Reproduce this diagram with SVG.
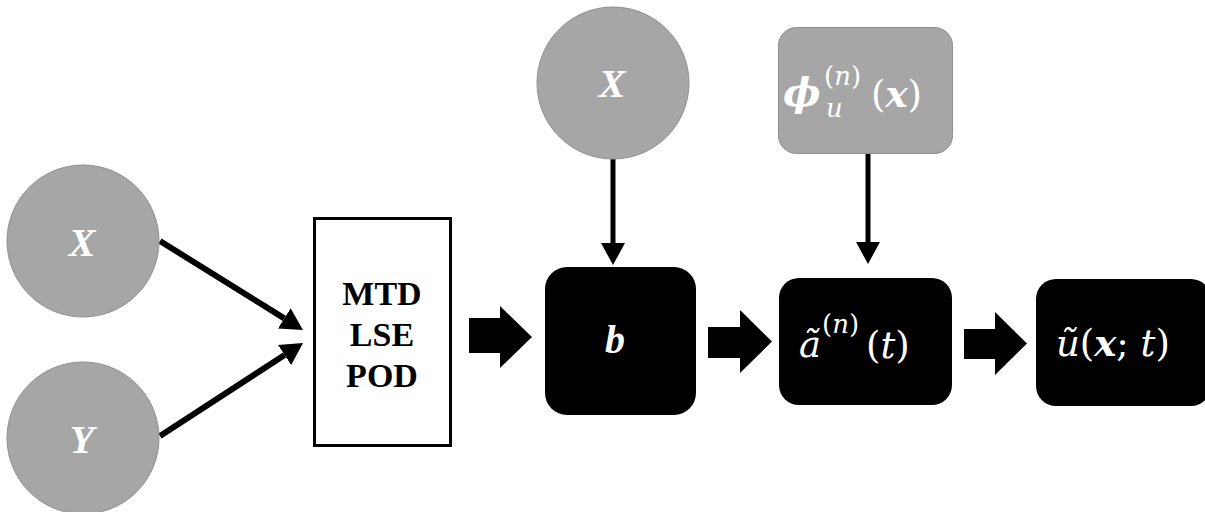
<svg xmlns="http://www.w3.org/2000/svg" width="1205" height="512" viewBox="0 0 1205 512">
<defs>
<style>
.gc{fill:#a6a6a6;stroke:#8f8f8f;stroke-width:1}
.bb{fill:#000}
.var{font-weight:bold;font-style:italic;font-size:40px;fill:#fff;text-anchor:middle}
.lab{font-weight:bold;font-size:34px;fill:#000;text-anchor:middle}
.m{font-style:italic;font-size:37px;fill:#fff}
.up{font-style:normal}
.ln{stroke:#000;stroke-width:6;fill:none}
.lv{stroke:#000;stroke-width:5;fill:none}
.blk{fill:#000}
</style>
<marker id="ah" markerUnits="userSpaceOnUse" markerWidth="22" markerHeight="24" refX="0" refY="12" orient="auto" viewBox="0 0 22 24">
<path d="M0,0 L22,12 L0,24 z" fill="#000"/>
</marker>
</defs>
<rect width="1205" height="512" fill="#fff"/>

<g id="connectors">
<line class="ln" x1="160" y1="241" x2="284.3" y2="318.4" marker-end="url(#ah)"/>
<line class="ln" x1="160" y1="436" x2="284.6" y2="355.0" marker-end="url(#ah)"/>
<line class="lv" x1="613" y1="159" x2="613" y2="243" marker-end="url(#ah)"/>
<line class="lv" x1="868" y1="154" x2="868" y2="242" marker-end="url(#ah)"/>
<polygon class="blk" points="469,318 500,318 500,306 532,337 500,368 500,353 469,353"/>
<polygon class="blk" points="708,327 740,327 740,310 772,341.5 740,373 740,358 708,358"/>
<polygon class="blk" points="964,329 995,329 995,312 1027,343.5 995,375 995,359 964,359"/>
</g>

<g id="node-x-left">
<circle class="gc" cx="83" cy="241" r="76"/>
<text class="var" font-family="Liberation Serif, Times New Roman, serif" x="82" y="256">X</text>
</g>
<g id="node-y-left">
<circle class="gc" cx="83" cy="438" r="76"/>
<text class="var" font-family="Liberation Serif, Times New Roman, serif" x="82" y="453">Y</text>
</g>
<g id="node-methods">
<rect x="314.5" y="218.5" width="136" height="227" fill="#fff" stroke="#000" stroke-width="3"/>
<text class="lab" font-family="Liberation Serif, Times New Roman, serif" x="382" y="305">MTD</text>
<text class="lab" font-family="Liberation Serif, Times New Roman, serif" x="382" y="346">LSE</text>
<text class="lab" font-family="Liberation Serif, Times New Roman, serif" x="382" y="387">POD</text>
</g>
<g id="node-x-top">
<circle class="gc" cx="613" cy="83" r="76"/>
<text class="var" font-family="Liberation Serif, Times New Roman, serif" x="612" y="97">X</text>
</g>
<g id="node-b">
<rect class="bb" x="545" y="267" width="151" height="148" rx="22"/>
<text class="var" font-family="Liberation Serif, Times New Roman, serif" x="615" y="353" font-size="38">b</text>
</g>
<g id="node-phi">
<rect class="gc" x="778.5" y="27.5" width="174" height="126" rx="18"/>
<text class="m" font-family="DejaVu Serif, Liberation Serif, serif"><tspan x="783" y="106" font-weight="bold" font-size="40">ϕ</tspan><tspan x="824" y="85" font-size="26"><tspan class="up">(</tspan>n<tspan class="up">)</tspan></tspan><tspan x="826" y="117" font-size="26">u</tspan><tspan x="871" y="107" class="up">(</tspan><tspan font-weight="bold">x</tspan><tspan class="up">)</tspan></text>
</g>
<g id="node-a">
<rect class="bb" x="779" y="278" width="173" height="127" rx="20"/>
<text class="m" font-family="DejaVu Serif, Liberation Serif, serif"><tspan x="799" y="357">ã</tspan><tspan x="822" y="333" font-size="26"><tspan class="up">(</tspan>n<tspan class="up">)</tspan></tspan><tspan x="866" y="358" class="up">(</tspan><tspan>t</tspan><tspan class="up">)</tspan></text>
</g>
<g id="node-u">
<rect class="bb" x="1036" y="279" width="175" height="127" rx="20"/>
<text class="m" font-family="DejaVu Serif, Liberation Serif, serif"><tspan x="1056" y="356">ũ</tspan><tspan class="up">(</tspan><tspan font-weight="bold">x</tspan><tspan class="up">; </tspan><tspan>t</tspan><tspan class="up">)</tspan></text>
</g>
</svg>
